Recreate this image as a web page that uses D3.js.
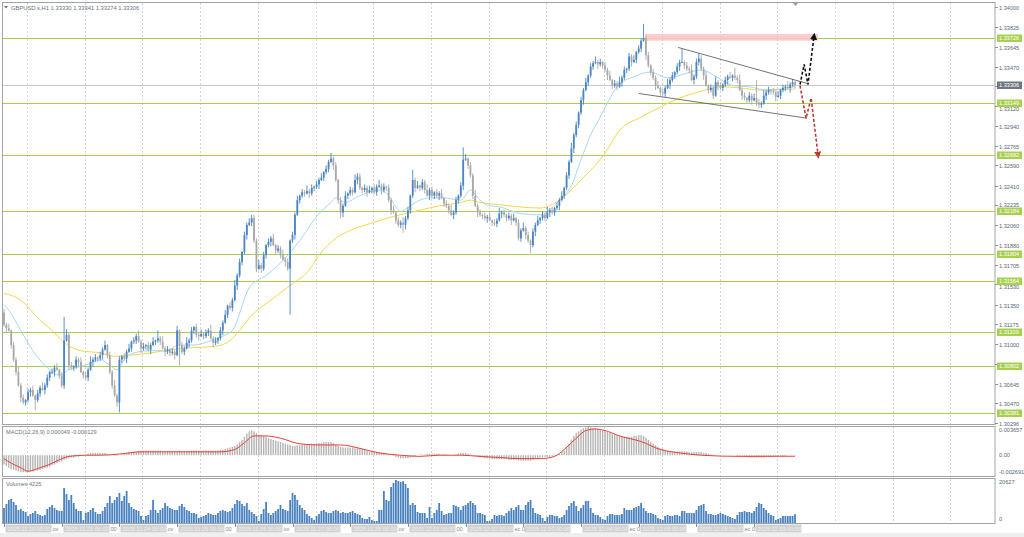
<!DOCTYPE html>
<html><head><meta charset="utf-8">
<script src="https://cdn.jsdelivr.net/npm/d3@7"></script>
<style>body{margin:0;background:#fff;}svg{display:block;}text{font-family:"Liberation Sans",Arial,sans-serif;}</style>
</head><body><svg id="c" width="1024" height="537"></svg>
<script>
const symbolTitle="GBPUSD.s,H1  1.33330 1.33341 1.33274 1.33306";
const opens=[1.3128,1.3117,1.3114,1.3112,1.3099,1.3086,1.3075,1.3063,1.3052,1.3048,
1.3050,1.3057,1.3059,1.3054,1.3050,1.3056,1.3061,1.3059,1.3063,1.3070,
1.3075,1.3075,1.3079,1.3077,1.3072,1.3063,1.3103,1.3108,1.3081,1.3079,
1.3080,1.3086,1.3084,1.3075,1.3072,1.3070,1.3077,1.3084,1.3086,1.3088,
1.3087,1.3090,1.3095,1.3099,1.3090,1.3075,1.3063,1.3054,1.3048,1.3086,
1.3089,1.3087,1.3093,1.3096,1.3102,1.3103,1.3107,1.3102,1.3096,1.3098,
1.3099,1.3095,1.3099,1.3102,1.3103,1.3105,1.3102,1.3096,1.3093,1.3095,
1.3092,1.3093,1.3090,1.3112,1.3099,1.3093,1.3096,1.3101,1.3103,1.3112,
1.3115,1.3108,1.3107,1.3109,1.3107,1.3110,1.3112,1.3105,1.3101,1.3103,
1.3105,1.3112,1.3119,1.3126,1.3134,1.3132,1.3139,1.3152,1.3161,1.3173,
1.3182,1.3197,1.3206,1.3208,1.3212,1.3192,1.3167,1.3170,1.3167,1.3179,
1.3188,1.3191,1.3194,1.3188,1.3183,1.3185,1.3179,1.3175,1.3173,1.3167,
1.3192,1.3197,1.3215,1.3228,1.3232,1.3235,1.3234,1.3236,1.3234,1.3239,
1.3240,1.3242,1.3246,1.3248,1.3253,1.3256,1.3262,1.3265,1.3259,1.3246,
1.3228,1.3217,1.3223,1.3232,1.3234,1.3237,1.3235,1.3246,1.3249,1.3239,
1.3237,1.3239,1.3235,1.3237,1.3239,1.3235,1.3240,1.3241,1.3237,1.3240,
1.3239,1.3228,1.3219,1.3217,1.3210,1.3206,1.3208,1.3206,1.3212,1.3219,
1.3232,1.3246,1.3239,1.3241,1.3239,1.3244,1.3237,1.3232,1.3237,1.3232,
1.3235,1.3232,1.3234,1.3230,1.3225,1.3223,1.3219,1.3215,1.3217,1.3228,
1.3232,1.3241,1.3264,1.3265,1.3259,1.3250,1.3232,1.3223,1.3217,1.3215,
1.3214,1.3212,1.3213,1.3210,1.3208,1.3207,1.3210,1.3216,1.3217,1.3215,
1.3212,1.3214,1.3210,1.3212,1.3208,1.3194,1.3201,1.3203,1.3197,1.3192,
1.3188,1.3200,1.3206,1.3210,1.3212,1.3215,1.3212,1.3217,1.3219,1.3217,
1.3221,1.3223,1.3228,1.3232,1.3239,1.3250,1.3262,1.3274,1.3286,1.3295,
1.3306,1.3317,1.3326,1.3333,1.3339,1.3347,1.3350,1.3351,1.3349,1.3351,
1.3348,1.3344,1.3339,1.3335,1.3330,1.3332,1.3329,1.3333,1.3337,1.3344,
1.3345,1.3356,1.3351,1.3353,1.3360,1.3363,1.3370,1.3372,1.3357,1.3348,
1.3342,1.3337,1.3330,1.3328,1.3324,1.3323,1.3328,1.3331,1.3335,1.3339,
1.3342,1.3347,1.3351,1.3351,1.3348,1.3345,1.3344,1.3335,1.3338,1.3351,
1.3354,1.3345,1.3339,1.3330,1.3326,1.3328,1.3321,1.3333,1.3330,1.3328,
1.3331,1.3335,1.3338,1.3337,1.3339,1.3337,1.3335,1.3326,1.3321,1.3319,
1.3317,1.3321,1.3317,1.3319,1.3315,1.3313,1.3314,1.3321,1.3324,1.3326,
1.3325,1.3324,1.3320,1.3321,1.3326,1.3328,1.3329,1.3328,1.3331,1.33330];
const highs=[1.3131,1.3119,1.3118,1.3113,1.3102,1.3088,1.3080,1.3065,1.3055,1.3051,
1.3060,1.3061,1.3063,1.3055,1.3059,1.3063,1.3066,1.3065,1.3073,1.3076,
1.3078,1.3081,1.3083,1.3078,1.3075,1.3124,1.3113,1.3110,1.3084,1.3081,
1.3089,1.3088,1.3088,1.3076,1.3075,1.3079,1.3089,1.3088,1.3091,1.3089,
1.3093,1.3097,1.3103,1.3100,1.3093,1.3077,1.3068,1.3056,1.3089,1.3090,
1.3092,1.3095,1.3100,1.3103,1.3106,1.3109,1.3112,1.3104,1.3101,1.3100,
1.3102,1.3101,1.3106,1.3104,1.3112,1.3107,1.3107,1.3098,1.3098,1.3096,
1.3096,1.3095,1.3116,1.3113,1.3102,1.3098,1.3106,1.3105,1.3115,1.3116,
1.3118,1.3110,1.3113,1.3110,1.3113,1.3114,1.3117,1.3107,1.3106,1.3106,
1.3115,1.3121,1.3130,1.3135,1.3137,1.3141,1.3157,1.3163,1.3176,1.3183,
1.3200,1.3208,1.3212,1.3215,1.3215,1.3194,1.3175,1.3172,1.3182,1.3189,
1.3194,1.3196,1.3198,1.3189,1.3188,1.3187,1.3184,1.3177,1.3176,1.3193,
1.3200,1.3217,1.3232,1.3233,1.3238,1.3237,1.3241,1.3238,1.3242,1.3241,
1.3245,1.3248,1.3252,1.3254,1.3259,1.3264,1.3270,1.3267,1.3262,1.3247,
1.3231,1.3225,1.3236,1.3235,1.3240,1.3239,1.3251,1.3252,1.3252,1.3240,
1.3242,1.3241,1.3241,1.3240,1.3242,1.3242,1.3246,1.3243,1.3243,1.3241,
1.3242,1.3230,1.3223,1.3218,1.3213,1.3210,1.3213,1.3214,1.3222,1.3233,
1.3255,1.3248,1.3245,1.3242,1.3247,1.3246,1.3242,1.3239,1.3240,1.3236,
1.3238,1.3236,1.3238,1.3231,1.3228,1.3225,1.3224,1.3219,1.3231,1.3233,
1.3244,1.3275,1.3269,1.3266,1.3262,1.3252,1.3237,1.3225,1.3220,1.3216,
1.3217,1.3215,1.3217,1.3211,1.3211,1.3212,1.3221,1.3219,1.3220,1.3216,
1.3217,1.3216,1.3216,1.3213,1.3211,1.3203,1.3208,1.3205,1.3200,1.3193,
1.3203,1.3208,1.3214,1.3213,1.3218,1.3217,1.3222,1.3221,1.3222,1.3222,
1.3226,1.3230,1.3236,1.3240,1.3253,1.3264,1.3279,1.3288,1.3298,1.3307,
1.3320,1.3328,1.3337,1.3340,1.3350,1.3352,1.3356,1.3353,1.3354,1.3352,
1.3351,1.3346,1.3343,1.3336,1.3335,1.3334,1.3338,1.3339,1.3347,1.3346,
1.3359,1.3358,1.3357,1.3361,1.3366,1.3372,1.3385,1.3374,1.3360,1.3349,
1.3345,1.3339,1.3334,1.3329,1.3327,1.3330,1.3336,1.3337,1.3342,1.3343,
1.3350,1.3353,1.3363,1.3352,1.3351,1.3347,1.3349,1.3340,1.3354,1.3359,
1.3357,1.3347,1.3343,1.3331,1.3331,1.3330,1.3338,1.3335,1.3333,1.3332,
1.3338,1.3340,1.3342,1.3340,1.3346,1.3339,1.3340,1.3328,1.3324,1.3320,
1.3324,1.3323,1.3323,1.3335,1.3318,1.3316,1.3326,1.3326,1.3329,1.3327,
1.3328,1.3326,1.3325,1.3327,1.3331,1.3331,1.3334,1.3333,1.3336,1.33341];
const lows=[1.3115,1.3110,1.3111,1.3096,1.3084,1.3072,1.3062,1.3048,1.3046,1.3045,
1.3048,1.3053,1.3053,1.3041,1.3048,1.3053,1.3058,1.3055,1.3061,1.3067,
1.3073,1.3071,1.3076,1.3069,1.3061,1.3060,1.3102,1.3077,1.3077,1.3076,
1.3078,1.3080,1.3074,1.3069,1.3068,1.3067,1.3076,1.3080,1.3084,1.3084,
1.3085,1.3086,1.3094,1.3087,1.3073,1.3060,1.3053,1.3044,1.3039,1.3083,
1.3085,1.3083,1.3092,1.3093,1.3100,1.3100,1.3101,1.3092,1.3094,1.3095,
1.3093,1.3091,1.3098,1.3099,1.3101,1.3099,1.3095,1.3089,1.3091,1.3089,
1.3090,1.3086,1.3089,1.3081,1.3091,1.3090,1.3095,1.3097,1.3101,1.3109,
1.3106,1.3103,1.3106,1.3104,1.3105,1.3107,1.3104,1.3097,1.3099,1.3100,
1.3103,1.3108,1.3118,1.3123,1.3130,1.3129,1.3138,1.3148,1.3159,1.3170,
1.3180,1.3193,1.3205,1.3205,1.3190,1.3164,1.3166,1.3163,1.3165,1.3176,
1.3186,1.3187,1.3187,1.3180,1.3181,1.3176,1.3174,1.3169,1.3165,1.3126,
1.3190,1.3193,1.3214,1.3225,1.3230,1.3231,1.3233,1.3230,1.3232,1.3236,
1.3238,1.3238,1.3245,1.3245,1.3251,1.3253,1.3261,1.3255,1.3244,1.3225,
1.3212,1.3213,1.3222,1.3229,1.3232,1.3232,1.3234,1.3242,1.3237,1.3234,
1.3235,1.3231,1.3234,1.3234,1.3233,1.3232,1.3239,1.3233,1.3235,1.3236,
1.3226,1.3215,1.3216,1.3207,1.3204,1.3203,1.3199,1.3202,1.3210,1.3216,
1.3230,1.3235,1.3238,1.3236,1.3237,1.3234,1.3231,1.3228,1.3230,1.3229,
1.3230,1.3228,1.3229,1.3222,1.3221,1.3216,1.3214,1.3211,1.3215,1.3225,
1.3230,1.3237,1.3263,1.3256,1.3248,1.3229,1.3222,1.3213,1.3213,1.3211,
1.3210,1.3208,1.3209,1.3205,1.3205,1.3204,1.3209,1.3212,1.3213,1.3209,
1.3210,1.3206,1.3209,1.3205,1.3192,1.3191,1.3200,1.3193,1.3190,1.3181,
1.3186,1.3196,1.3205,1.3207,1.3210,1.3209,1.3211,1.3213,1.3215,1.3214,
1.3219,1.3219,1.3227,1.3229,1.3237,1.3247,1.3261,1.3270,1.3284,1.3292,
1.3304,1.3313,1.3325,1.3330,1.3337,1.3344,1.3349,1.3345,1.3347,1.3345,
1.3342,1.3335,1.3334,1.3327,1.3328,1.3326,1.3328,1.3329,1.3335,1.3341,
1.3343,1.3347,1.3350,1.3350,1.3358,1.3360,1.3369,1.3353,1.3346,1.3339,
1.3335,1.3326,1.3327,1.3321,1.3321,1.3320,1.3327,1.3327,1.3333,1.3336,
1.3340,1.3343,1.3350,1.3345,1.3343,1.3341,1.3334,1.3331,1.3336,1.3348,
1.3343,1.3335,1.3329,1.3323,1.3324,1.3318,1.3320,1.3326,1.3326,1.3325,
1.3329,1.3331,1.3336,1.3334,1.3335,1.3332,1.3325,1.3317,1.3317,1.3314,
1.3315,1.3313,1.3316,1.3312,1.3310,1.3310,1.3313,1.3317,1.3322,1.3322,
1.3322,1.3316,1.3319,1.3318,1.3324,1.3325,1.3327,1.3324,1.3329,1.33274];
const closes=[1.3117,1.3114,1.3112,1.3099,1.3086,1.3075,1.3063,1.3052,1.3048,1.3050,
1.3057,1.3059,1.3054,1.3050,1.3056,1.3061,1.3059,1.3063,1.3070,1.3075,
1.3075,1.3079,1.3077,1.3072,1.3063,1.3103,1.3108,1.3081,1.3079,1.3080,
1.3086,1.3084,1.3075,1.3072,1.3070,1.3077,1.3084,1.3086,1.3088,1.3087,
1.3090,1.3095,1.3099,1.3090,1.3075,1.3063,1.3054,1.3048,1.3086,1.3089,
1.3087,1.3093,1.3096,1.3102,1.3103,1.3107,1.3102,1.3096,1.3098,1.3099,
1.3095,1.3099,1.3102,1.3103,1.3105,1.3102,1.3096,1.3093,1.3095,1.3092,
1.3093,1.3090,1.3112,1.3099,1.3093,1.3096,1.3101,1.3103,1.3112,1.3115,
1.3108,1.3107,1.3109,1.3107,1.3110,1.3112,1.3105,1.3101,1.3103,1.3105,
1.3112,1.3119,1.3126,1.3134,1.3132,1.3139,1.3152,1.3161,1.3173,1.3182,
1.3197,1.3206,1.3208,1.3212,1.3192,1.3167,1.3170,1.3167,1.3179,1.3188,
1.3191,1.3194,1.3188,1.3183,1.3185,1.3179,1.3175,1.3173,1.3167,1.3192,
1.3197,1.3215,1.3228,1.3232,1.3235,1.3234,1.3236,1.3234,1.3239,1.3240,
1.3242,1.3246,1.3248,1.3253,1.3256,1.3262,1.3265,1.3259,1.3246,1.3228,
1.3217,1.3223,1.3232,1.3234,1.3237,1.3235,1.3246,1.3249,1.3239,1.3237,
1.3239,1.3235,1.3237,1.3239,1.3235,1.3240,1.3241,1.3237,1.3240,1.3239,
1.3228,1.3219,1.3217,1.3210,1.3206,1.3208,1.3206,1.3212,1.3219,1.3232,
1.3246,1.3239,1.3241,1.3239,1.3244,1.3237,1.3232,1.3237,1.3232,1.3235,
1.3232,1.3234,1.3230,1.3225,1.3223,1.3219,1.3215,1.3217,1.3228,1.3232,
1.3241,1.3264,1.3265,1.3259,1.3250,1.3232,1.3223,1.3217,1.3215,1.3214,
1.3212,1.3213,1.3210,1.3208,1.3207,1.3210,1.3216,1.3217,1.3215,1.3212,
1.3214,1.3210,1.3212,1.3208,1.3194,1.3201,1.3203,1.3197,1.3192,1.3188,
1.3200,1.3206,1.3210,1.3212,1.3215,1.3212,1.3217,1.3219,1.3217,1.3221,
1.3223,1.3228,1.3232,1.3239,1.3250,1.3262,1.3274,1.3286,1.3295,1.3306,
1.3317,1.3326,1.3333,1.3339,1.3347,1.3350,1.3351,1.3349,1.3351,1.3348,
1.3344,1.3339,1.3335,1.3330,1.3332,1.3329,1.3333,1.3337,1.3344,1.3345,
1.3356,1.3351,1.3353,1.3360,1.3363,1.3370,1.3372,1.3357,1.3348,1.3342,
1.3337,1.3330,1.3328,1.3324,1.3323,1.3328,1.3331,1.3335,1.3339,1.3342,
1.3347,1.3351,1.3351,1.3348,1.3345,1.3344,1.3335,1.3338,1.3351,1.3354,
1.3345,1.3339,1.3330,1.3326,1.3328,1.3321,1.3333,1.3330,1.3328,1.3331,
1.3335,1.3338,1.3337,1.3339,1.3337,1.3335,1.3326,1.3321,1.3319,1.3317,
1.3321,1.3317,1.3319,1.3315,1.3313,1.3314,1.3321,1.3324,1.3326,1.3325,
1.3324,1.3320,1.3321,1.3326,1.3328,1.3329,1.3328,1.3331,1.3333,1.33306];
const volumes=[7200,9120,11040,11520,10080,8640,6240,6720,5760,5280,
3360,4320,4800,5760,4320,3840,3360,3840,6720,7680,
8640,7200,6240,5760,5760,16800,13920,11040,13440,9600,
6720,5760,5760,1440,4800,5280,6240,7200,5280,4320,
4320,5760,7680,9600,12960,9600,11040,12480,14400,10560,
12960,15360,9600,7680,6720,6240,5760,3360,1440,3360,
3840,6240,11040,6240,4800,6240,7200,9600,8160,7200,
6720,6240,6240,8160,9120,7680,6240,5760,4800,4800,
4320,2400,2880,3360,3840,4800,4320,3840,3840,4800,
5760,6240,5760,5280,5760,7200,9120,11040,10560,9120,
8160,9600,6240,5280,4320,3360,960,4320,6720,10080,
4800,3840,4800,5760,6720,8640,6720,6240,5760,11040,
14400,13440,11040,8640,7200,6240,4320,3360,2400,1440,
3360,4320,5760,6240,5280,4800,4800,5760,6240,5760,
4800,5280,4800,4800,5280,5760,4800,4320,3840,2400,
1920,1920,2880,1440,960,960,6240,6240,15360,11040,
10560,17280,19200,20627,20160,19680,20100,18720,16800,8640,
9600,8640,5280,4800,4800,4800,2400,7680,2400,4800,
6240,9600,5760,3840,4320,4800,4800,8640,8160,7680,
6240,8160,8640,9600,10560,9600,8640,4800,4800,4320,
3840,960,960,1920,3840,3360,3840,3840,3360,4800,
5760,7200,6240,7680,8640,6240,6240,8640,10080,11040,
7200,4800,4320,3840,2400,960,2880,3840,3840,3360,
3360,2400,2880,3840,6240,8160,9600,10560,8160,5760,
7200,8640,10560,10560,7200,4800,3840,3840,2880,1920,
1440,3360,4320,4320,3840,3840,3840,4320,7200,6240,
6240,6240,7200,7680,8160,9600,7200,5760,4800,4800,
4320,3840,2400,1920,1440,3360,3840,3360,3360,3840,
3840,3360,5760,5760,4800,4800,4800,4800,6240,8160,
8640,9120,5760,4320,4320,3840,3840,4320,4800,4320,
3840,3360,2880,2400,1920,3840,5280,5280,5760,5280,
5280,4800,5760,7680,9600,9120,7200,6240,4800,3840,
3360,1440,1920,2400,3360,3360,3360,3360,3360,4225];
const macdMain=[-0.0012,-0.0014,-0.0016,-0.0018,-0.0019,-0.0020,-0.0021,-0.0022,-0.0022,-0.0022,
-0.0022,-0.0021,-0.0021,-0.0020,-0.0020,-0.0019,-0.0018,-0.0017,-0.0016,-0.0015,
-0.0013,-0.0012,-0.0010,-0.0009,-0.0008,-0.0006,-0.0005,-0.0004,-0.0003,-0.0003,
-0.0002,-0.0002,-0.0001,0,0.0001,0.0002,0.0003,0.0003,0.0003,0.0003,
0.0003,0.0003,0.0003,0.0002,0.0001,0,-0.0001,-0.0001,0,0.0001,
0.0002,0.0003,0.0004,0.0004,0.0005,0.0005,0.0006,0.0006,0.0006,0.0006,
0.0006,0.0006,0.0006,0.0006,0.0006,0.0006,0.0005,0.0005,0.0005,0.0005,
0.0005,0.0005,0.0005,0.0006,0.0005,0.0005,0.0005,0.0005,0.0006,0.0006,
0.0006,0.0006,0.0006,0.0006,0.0006,0.0006,0.0006,0.0006,0.0006,0.0006,
0.0007,0.0007,0.0008,0.0009,0.0010,0.0011,0.0012,0.0014,0.0017,0.0020,
0.0024,0.0028,0.0031,0.0032,0.0031,0.0029,0.0027,0.0026,0.0025,0.0024,
0.0022,0.0021,0.0020,0.0019,0.0018,0.0017,0.0016,0.0015,0.0014,0.0013,
0.0012,0.0012,0.0013,0.0013,0.0014,0.0014,0.0014,0.0015,0.0015,0.0015,
0.0015,0.0016,0.0016,0.0017,0.0017,0.0017,0.0017,0.0016,0.0014,0.0012,
0.0011,0.0010,0.0010,0.0010,0.0010,0.0010,0.0009,0.0009,0.0009,0.0008,
0.0007,0.0006,0.0005,0.0005,0.0004,0.0004,0.0004,0.0003,0.0003,0.0002,
0.0001,0,-0.0001,-0.0002,-0.0003,-0.0004,-0.0004,-0.0004,-0.0004,-0.0003,
-0.0002,-0.0001,0,0.0001,0.0001,0.0001,0.0002,0.0002,0.0002,0.0002,
0.0002,0.0002,0.0001,0.0001,0.0001,0,0,0,0.0001,0.0002,
0.0003,0.0003,0.0003,0.0002,0.0001,0,-0.0001,-0.0002,-0.0003,-0.0003,
-0.0004,-0.0004,-0.0004,-0.0005,-0.0005,-0.0005,-0.0005,-0.0005,-0.0005,-0.0005,
-0.0006,-0.0006,-0.0006,-0.0006,-0.0007,-0.0007,-0.0007,-0.0007,-0.0007,-0.0007,
-0.0006,-0.0005,-0.0004,-0.0003,-0.0003,-0.0002,-0.0002,-0.0002,-0.0001,-0.0001,
0,0.0002,0.0004,0.0006,0.0010,0.0015,0.0020,0.0025,0.0029,0.0031,
0.0033,0.0035,0.0036,0.003657,0.0036,0.0035,0.0035,0.0034,0.0033,0.0032,
0.0031,0.0030,0.0029,0.0028,0.0027,0.0026,0.0025,0.0024,0.0024,0.0024,
0.0024,0.0024,0.0025,0.0025,0.0026,0.0026,0.0025,0.0023,0.0020,0.0017,
0.0015,0.0013,0.0011,0.0009,0.0008,0.0007,0.0006,0.0005,0.0005,0.0005,
0.0005,0.0005,0.0005,0.0005,0.0005,0.0004,0.0004,0.0004,0.0004,0.0004,
0.0004,0.0003,0.0003,0.0002,0.0001,0.0001,0,0,0,0,
0,0,0,0,0,-0.0001,-0.0001,-0.0001,-0.0002,-0.0002,
-0.0003,-0.0003,-0.0003,-0.0003,-0.0003,-0.0003,-0.0003,-0.0002,-0.0002,-0.0002,
-0.0002,-0.0001,-0.0001,-0.0001,-0.0001,-0.0001,0,0,0,0.000049];
const signalIdx=[0,3,7,10,15,19,23,27,34,40,48,57,82,90,96,100,104,109,115,123,131,140,148,156,165,173,181,190,198,206,215,223,229,233,238,242,246,250,256,265,273,281,290,306,329];
const signalVal=[-0.00044,-0.00103,-0.00162,-0.00207,-0.00162,-0.00118,-0.00059,-0.00015,0,0,0.00015,0.00044,0.00044,0.00044,0.00074,0.00162,0.0025,0.0025,0.0022,0.00148,0.00133,0.00133,0.00089,0.0003,0,-0.00015,0,0,-0.00015,-0.0003,-0.00044,-0.00044,-0.00015,0.00074,0.0022,0.0032,0.0034,0.0032,0.0025,0.00177,0.00074,0.0003,0,-0.00015,-0.000129];
const maFastIdx=[0,2,7,12,19,23,27,34,40,44,47,50,54,61,67,73,79,86,92,95,102,109,114,123,131,136,138,142,148,156,160,163,165,169,173,177,183,190,194,198,202,206,215,223,231,236,240,244,248,255,262,269,276,284,290,297,303,310,317,326,329];
const maFastVal=[1.3135,1.3130,1.3112,1.3094,1.3077,1.3072,1.3077,1.3081,1.3086,1.3081,1.3077,1.3086,1.3092,1.3094,1.3094,1.3099,1.3099,1.3103,1.3108,1.3112,1.3150,1.3161,1.3170,1.3192,1.3216,1.3226,1.3230,1.3226,1.3232,1.3237,1.3232,1.3222,1.3218,1.3223,1.3228,1.3230,1.3230,1.3228,1.3237,1.3228,1.3223,1.3222,1.3216,1.3215,1.3228,1.3241,1.3264,1.3286,1.3302,1.3329,1.3338,1.3342,1.3337,1.3341,1.3344,1.3337,1.3330,1.3329,1.3326,1.3328,1.3329];
const maSlowIdx=[0,7,15,21,24,32,40,46,52,61,67,73,82,88,94,98,102,111,119,127,131,138,144,152,161,169,181,190,194,198,206,223,231,240,250,256,265,273,281,290,298,306,315,329];
const maSlowVal=[1.3145,1.3139,1.3121,1.3110,1.3103,1.3094,1.3092,1.3089,1.3090,1.3092,1.3094,1.3096,1.3097,1.3098,1.3103,1.3112,1.3123,1.3139,1.3152,1.3166,1.3179,1.3194,1.3201,1.3207,1.3213,1.3217,1.3223,1.3226,1.3228,1.3226,1.3224,1.3221,1.3228,1.3246,1.3270,1.3290,1.3302,1.3311,1.3319,1.3325,1.3329,1.3328,1.3326,1.3327];
const priceTicks=[1.34000,1.33825,1.33645,1.33470,1.33295,1.33120,1.32940,1.32765,1.32590,1.32410,1.32235,1.32060,1.31880,1.31705,1.31530,1.31350,1.31175,1.31000,1.30820,1.30645,1.30470,1.30296];
const levels=[1.33726,1.33149,1.32682,1.32184,1.31804,1.31564,1.31109,1.30802,1.30381];
const currentPrice=1.33306;
const macdTicks=[0.003657,0,-0.002691];
const macdTickText=["0.003657","0.00","-0.002691"];
const volTicks=[20627,0];
const macdTitle="MACD(12,26,9) 0.000049 -0.000129";
const volTitle="Volumes 4225";
const dateIdx=[0,24,48,72,96,120,144,168,192,216,240,264,288,312];
const dateText=["2025.11.20 00:00","2025.11.21 00:00","2025.11.24 00:00","2025.11.25 00:00","2025.11.26 00:00","2025.11.27 00:00","2025.11.28 00:00","2025.12.01 00:00","2025.12.02 00:00","2025.12.03 00:00","2025.12.04 00:00","2025.12.05 00:00","2025.12.08 00:00","2025.12.09 00:00"];
const dateTail=["ov","00","ov","00","ov","","ov","00","ec 0","","ec 0","","ec 0",""];
const zoneIdx=[266.6,338.6], zonePrice=[1.3370,1.3376];
const upperTrendIdx=[280.4,334], upperTrendPrice=[1.3364,1.3332];
const lowerTrendIdx=[264,334], lowerTrendPrice=[1.3323,1.3301];
const bullPathIdx=[331.1,332.8,334.4,336.9], bullPathPrice=[1.3331,1.3349,1.3331,1.3374];
const bearPathIdx=[331.1,333.6,335.7,338.6], bearPathPrice=[1.3330,1.3301,1.3319,1.3268];

const N=closes.length;
const svg=d3.select('#c');
const x=d3.scaleLinear().domain([0,N-1]).range([4,795]);
const y=d3.scaleLinear().domain([1.30296,1.34]).range([423,7]);
const ym=d3.scaleLinear().domain([-0.002691,0.003657]).range([476,427]);
const yv=d3.scaleLinear().domain([0,20627]).range([523,480]);
const RX=995;
const green="#a8d04e", bull="#4a84c4", bear="#a8a8a8", axisTxt="#5a6878";

svg.append('rect').attr('width',1024).attr('height',537).attr('fill','#fff');
svg.append('rect').attr('x',0).attr('y',533).attr('width',1024).attr('height',4).attr('fill','#efefef');

const gridIdx=d3.range(9.6,N+100,24);
svg.append('g').selectAll('line').data(gridIdx.filter(g=>x(g)<RX)).join('line')
 .attr('x1',d=>Math.round(x(d))+0.5).attr('x2',d=>Math.round(x(d))+0.5)
 .attr('y1',3).attr('y2',523).attr('stroke','#d6d6d6').attr('stroke-dasharray','2,2');

const frame=svg.append('g').attr('stroke','#a0a4a8').attr('fill','none');
frame.append('rect').attr('x',2.5).attr('y',2.5).attr('width',RX-2.5).attr('height',422);
frame.append('rect').attr('x',2.5).attr('y',426.5).attr('width',RX-2.5).attr('height',50);
frame.append('rect').attr('x',2.5).attr('y',478.5).attr('width',RX-2.5).attr('height',45);

svg.append('g').selectAll('line').data(levels).join('line')
 .attr('x1',3).attr('x2',RX).attr('y1',d=>Math.round(y(d))+0.5).attr('y2',d=>Math.round(y(d))+0.5)
 .attr('stroke',green).attr('stroke-width',1);
svg.append('line').attr('x1',3).attr('x2',RX).attr('y1',Math.round(y(currentPrice))+0.5).attr('y2',Math.round(y(currentPrice))+0.5).attr('stroke','#c8cacc');

svg.append('rect').attr('x',x(zoneIdx[0])).attr('width',x(zoneIdx[1])-x(zoneIdx[0]))
 .attr('y',y(zonePrice[1])).attr('height',y(zonePrice[0])-y(zonePrice[1])).attr('fill','#f8c4c4').attr('opacity',0.85);

const line=d3.line().curve(d3.curveMonotoneX);
svg.append('path').attr('d',line(maSlowIdx.map((d,i)=>[x(d),y(maSlowVal[i])]))).attr('fill','none').attr('stroke','#f6d64a').attr('stroke-width',1);
svg.append('path').attr('d',line(maFastIdx.map((d,i)=>[x(d),y(maFastVal[i])]))).attr('fill','none').attr('stroke','#a6d8f2').attr('stroke-width',1);

const cg=svg.append('g');
d3.range(N).forEach(i=>{
 const up=closes[i]>=opens[i], col=up?bull:bear, cx=x(i);
 cg.append('line').attr('x1',cx).attr('x2',cx).attr('y1',y(highs[i])).attr('y2',y(lows[i])).attr('stroke',col).attr('stroke-width',0.9);
 const t=y(Math.max(opens[i],closes[i])), b=y(Math.min(opens[i],closes[i]));
 cg.append('rect').attr('x',cx-0.9).attr('width',1.8).attr('y',t).attr('height',Math.max(0.8,b-t)).attr('fill',col);
});

const tl=svg.append('g').attr('stroke','#505050').attr('stroke-width',0.8);
tl.append('line').attr('x1',x(upperTrendIdx[0])).attr('y1',y(upperTrendPrice[0])).attr('x2',x(upperTrendIdx[1])).attr('y2',y(upperTrendPrice[1]));
tl.append('line').attr('x1',x(lowerTrendIdx[0])).attr('y1',y(lowerTrendPrice[0])).attr('x2',x(lowerTrendIdx[1])).attr('y2',y(lowerTrendPrice[1]));

const defs=svg.append('defs');
[['ab','#111'],['ar','#b83a32']].forEach(([id,c])=>{
 defs.append('marker').attr('id',id).attr('viewBox','0 0 10 10').attr('refX',5).attr('refY',5)
  .attr('markerWidth',4.5).attr('markerHeight',4.5).attr('orient','auto')
  .append('path').attr('d','M0,0 L10,5 L0,10 Z').attr('fill',c);
});
const pl=d3.line();
svg.append('path').attr('d',pl(bullPathIdx.map((d,i)=>[x(d),y(bullPathPrice[i])]))).attr('fill','none')
 .attr('stroke','#111').attr('stroke-width',1.6).attr('stroke-dasharray','3,2').attr('marker-end','url(#ab)');
svg.append('path').attr('d',pl(bearPathIdx.map((d,i)=>[x(d),y(bearPathPrice[i])]))).attr('fill','none')
 .attr('stroke','#b83a32').attr('stroke-width',1.6).attr('stroke-dasharray','3,2').attr('marker-end','url(#ar)');

// price axis
const ax=svg.append('g').attr('font-size','5.6px').attr('fill',axisTxt);
const boxes=levels.concat([currentPrice]).map(p=>Math.round(y(p)));
priceTicks.forEach(p=>{
 const yy=Math.round(y(p))+0.5;
 ax.append('line').attr('x1',RX).attr('x2',RX+3).attr('y1',yy).attr('y2',yy).attr('stroke','#8a9098');
 let ty=yy+2;
 const hit=boxes.find(b=>Math.abs(b-yy)<7.5);
 if(hit!==undefined){
   if(Math.abs(hit-yy)<2.5) return; // fully hidden behind a label box
   ty = yy>hit ? hit+3.8+4.2 : hit-3.8-0.6;
 }
 ax.append('text').attr('x',RX+4).attr('y',ty).text(p.toFixed(5));
});
levels.forEach(p=>{
 const yy=Math.round(y(p));
 ax.append('rect').attr('x',RX+2).attr('y',yy-3.5).attr('width',25).attr('height',7.5).attr('fill',green);
 ax.append('text').attr('x',RX+4).attr('y',yy+2).attr('fill','#fff').text(p.toFixed(5));
});
{
 const yy=Math.round(y(currentPrice));
 ax.append('rect').attr('x',RX+2).attr('y',yy-3.5).attr('width',25).attr('height',7.5).attr('fill','#6e7780');
 ax.append('text').attr('x',RX+4).attr('y',yy+2).attr('fill','#fff').text(currentPrice.toFixed(5));
}

svg.append('path').attr('d','M4,6 L8,6 L6,8.5 Z').attr('fill','#707070');
svg.append('text').attr('x',11).attr('y',10).attr('font-size','5.8px').attr('fill','#6a7480').text(symbolTitle);
svg.append('path').attr('d','M793,3 L798,3 L795.5,6 Z').attr('fill','#9a9a9a');

const mg=svg.append('g');
mg.selectAll('rect').data(macdMain).join('rect')
 .attr('x',(d,i)=>x(i)-0.7).attr('width',1.4)
 .attr('y',d=>Math.min(ym(d),ym(0))).attr('height',d=>Math.abs(ym(d)-ym(0))).attr('fill','#b4b4b4');
svg.append('path').attr('d',line(signalIdx.map((d,i)=>[x(d),ym(signalVal[i])]))).attr('fill','none').attr('stroke','#e8403a').attr('stroke-width',1);
svg.append('text').attr('x',6).attr('y',434).attr('font-size','5.6px').attr('fill','#6a7480').text(macdTitle);
macdTicks.forEach((v,i)=>{
 const yy=[430,455,472][i];
 ax.append('text').attr('x',RX+4).attr('y',yy+2).text(macdTickText[i]);
});

svg.append('g').selectAll('rect').data(volumes).join('rect')
 .attr('x',(d,i)=>x(i)-0.9).attr('width',1.8)
 .attr('y',d=>yv(d)).attr('height',d=>yv(0)-yv(d)).attr('fill','#4a82c0');
svg.append('text').attr('x',6).attr('y',486).attr('font-size','5.6px').attr('fill','#6a7480').text(volTitle);
ax.append('text').attr('x',RX+4).attr('y',484).text(volTicks[0]);
ax.append('text').attr('x',RX+4).attr('y',521).text(volTicks[1]);

const tg=svg.append('g').attr('font-size','5.6px');
dateIdx.forEach((d,k)=>{
 const xx=Math.round(x(d))+0.5;
 tg.append('line').attr('x1',xx).attr('x2',xx).attr('y1',523).attr('y2',527).attr('stroke','#8a9098');
 tg.append('rect').attr('x',xx+1).attr('y',524.5).attr('width',46).attr('height',8).attr('fill','#d2d2d2');
 tg.append('text').attr('x',xx+3).attr('y',531).attr('fill','#eeeeee').text(dateText[k]);
 if(dateTail[k]) tg.append('text').attr('x',xx+48).attr('y',531).attr('fill','#8a8a8a').text(dateTail[k]);
});
</script></body></html>
